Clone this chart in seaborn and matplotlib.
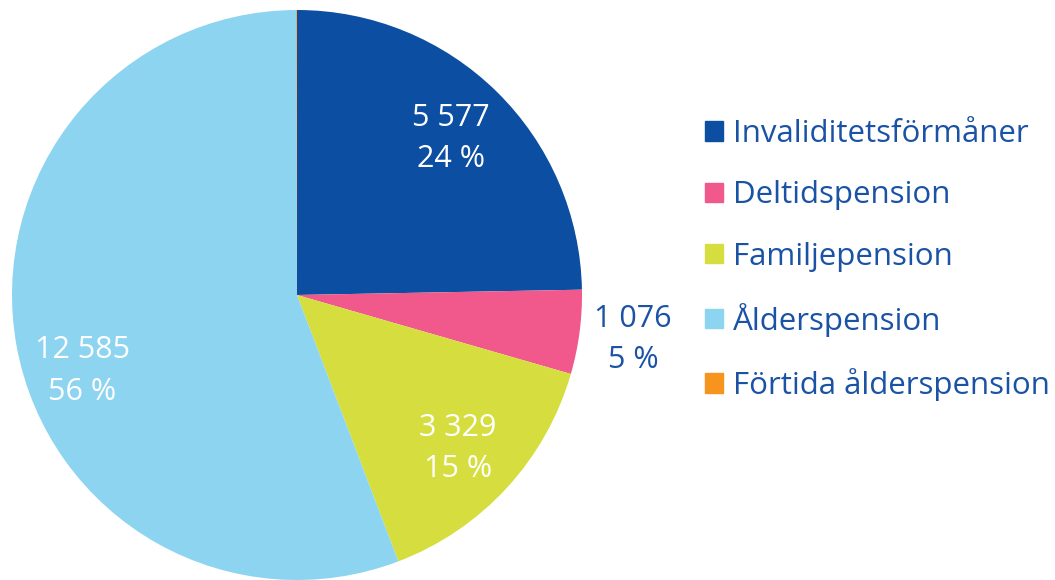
import matplotlib
matplotlib.use("Agg")
import matplotlib.pyplot as plt
import numpy as np
import seaborn as sns

# data
categories = ['Invaliditetsförmåner', 'Deltidspension', 'Familjepension',
              'Ålderspension', 'Förtida ålderspension']
values = [5577, 1076, 3329, 12585, 10]
pct_labels = ['24 %', '5 %', '15 %', '56 %', None]

colors = ['#0b4ea2', '#f1588b', '#d5de3e', '#8dd4f1', '#f7941e']
text_blue = '#1a52a5'

sns.set_theme(style='white')
plt.rcParams['font.family'] = ['Open Sans', 'DejaVu Sans']

fig = plt.figure(figsize=(10.55, 5.8), dpi=100)
ax = fig.add_axes([12 / 1055, 0 / 580, 570 / 1055, 570 / 580])

wedges, _ = ax.pie(values, colors=colors, startangle=90, counterclock=False,
                   wedgeprops=dict(linewidth=0), radius=1.0)
ax.set_aspect('equal')
ax.set_xlim(-1, 1)
ax.set_ylim(-1, 1)

# label placement per slice (radius, angle nudge in degrees)
label_r = [0.77, 1.19, 0.78, 0.80, None]
label_nudge = [0, 0, -1, 9, 0]
label_color = ['white', text_blue, 'white', 'white', None]

for w, v, p, r, dn, c in zip(wedges, values, pct_labels, label_r, label_nudge, label_color):
    if p is None:
        continue
    ang = np.deg2rad((w.theta1 + w.theta2) / 2 + dn)
    x, y = r * np.cos(ang), r * np.sin(ang)
    txt = f'{v:,}'.replace(',', ' ') + '\n' + p
    ax.text(x, y, txt, ha='center', va='center', color=c, fontsize=22,
            linespacing=1.5)

handles = [plt.Rectangle((0, 0), 1, 1, color=col) for col in colors]
leg = fig.legend(handles, categories, loc='center left',
                 bbox_to_anchor=(705 / 1055, 1 - 260 / 580), frameon=False,
                 fontsize=22.5, handlelength=0.58, handleheight=0.58,
                 handletextpad=0.32, labelspacing=1.0, labelcolor=text_blue,
                 borderpad=0, borderaxespad=0)

fig.savefig('out.png', dpi=100)
